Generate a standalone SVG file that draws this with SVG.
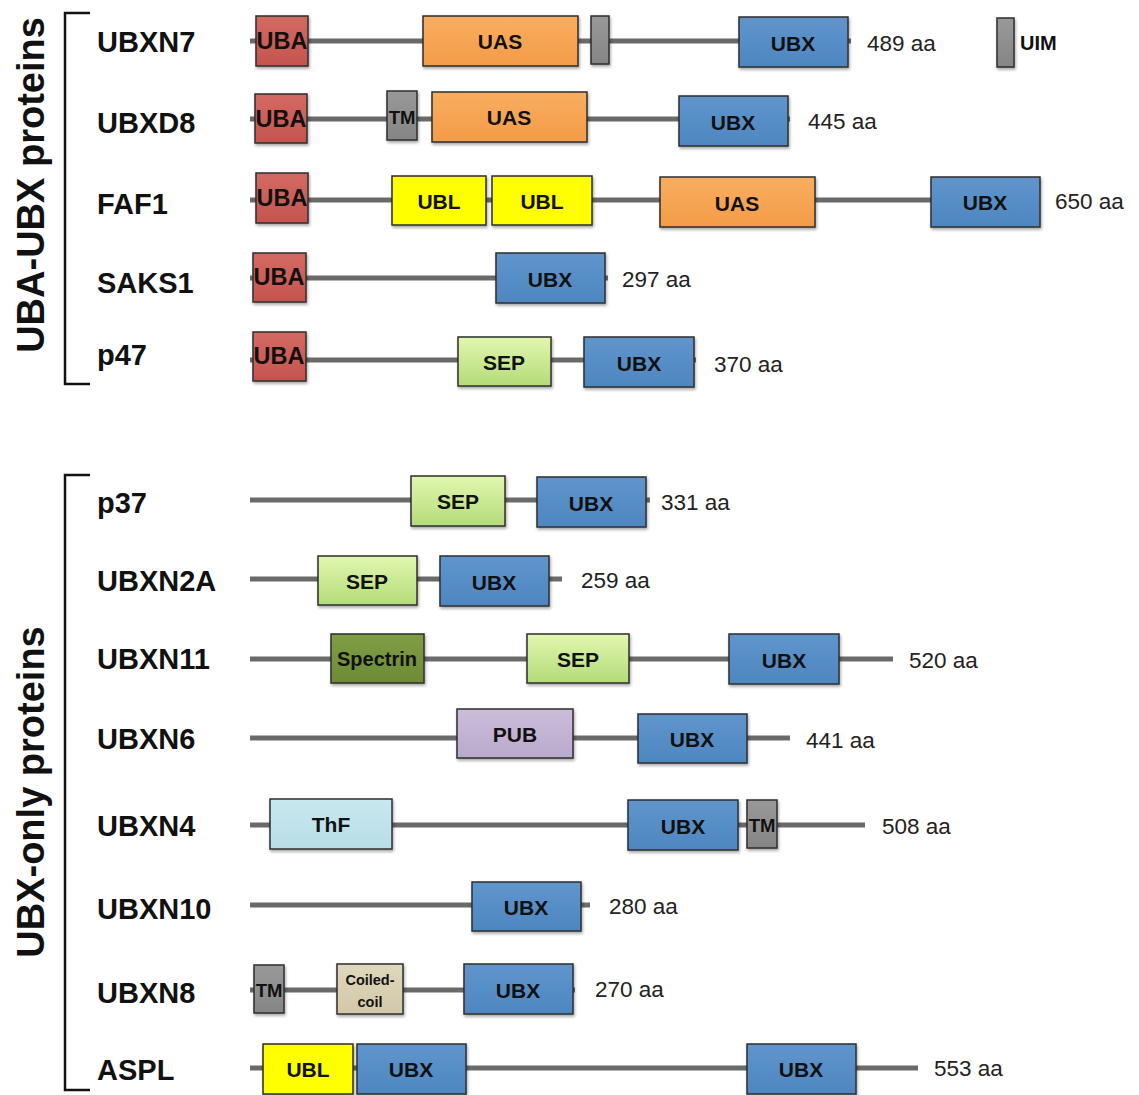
<svg xmlns="http://www.w3.org/2000/svg" width="1139" height="1095" viewBox="0 0 1139 1095">
<style>
.bb{stroke:#6a6a6a;stroke-width:5;fill:none}
.box{stroke:#2e2e2e;stroke-width:1.5;filter:url(#sh)}
.dl{font-family:"Liberation Sans",Arial,sans-serif;font-weight:bold;font-size:21px;fill:#111;text-anchor:middle}
.ua{font-size:23.5px}
.tm{font-size:18.5px}
.nm{font-family:"Liberation Sans",Arial,sans-serif;font-weight:bold;font-size:29px;fill:#111}
.aa{font-family:"Liberation Sans",Arial,sans-serif;font-size:22.5px;fill:#222}
.tt{font-family:"Liberation Sans",Arial,sans-serif;font-weight:bold;font-size:38px;fill:#111;text-anchor:middle}
.br{stroke:#111;stroke-width:2.5;fill:none}
.uba{fill:url(#gUBA)}.uas{fill:url(#gUAS)}.ubx{fill:url(#gUBX)}.gry{fill:url(#gGRY)}
.ubl{fill:#ffff00}.sep{fill:url(#gSEP)}.spe{fill:url(#gSPE)}.pub{fill:url(#gPUB)}
.thf{fill:url(#gTHF)}.coi{fill:url(#gCOI)}
</style>
<defs>
<filter id="sh" x="-10%" y="-10%" width="130%" height="140%"><feDropShadow dx="1" dy="2" stdDeviation="1.5" flood-color="#000" flood-opacity="0.35"/></filter>
<linearGradient id="gUBA" x1="0" y1="0" x2="0" y2="1"><stop offset="0" stop-color="#d36a62"/><stop offset="1" stop-color="#c4554e"/></linearGradient>
<linearGradient id="gUAS" x1="0" y1="0" x2="0" y2="1"><stop offset="0" stop-color="#f9ad60"/><stop offset="1" stop-color="#f39c48"/></linearGradient>
<linearGradient id="gUBX" x1="0" y1="0" x2="0" y2="1"><stop offset="0" stop-color="#6095cc"/><stop offset="1" stop-color="#4e86c0"/></linearGradient>
<linearGradient id="gGRY" x1="0" y1="0" x2="0" y2="1"><stop offset="0" stop-color="#999"/><stop offset="1" stop-color="#858585"/></linearGradient>
<linearGradient id="gSEP" x1="0" y1="0" x2="0" y2="1"><stop offset="0" stop-color="#e2f7b0"/><stop offset="1" stop-color="#b3db78"/></linearGradient>
<linearGradient id="gSPE" x1="0" y1="0" x2="0" y2="1"><stop offset="0" stop-color="#7f9e45"/><stop offset="1" stop-color="#6d8b35"/></linearGradient>
<linearGradient id="gPUB" x1="0" y1="0" x2="0" y2="1"><stop offset="0" stop-color="#cbbdda"/><stop offset="1" stop-color="#b9a9cc"/></linearGradient>
<linearGradient id="gTHF" x1="0" y1="0" x2="0" y2="1"><stop offset="0" stop-color="#c9e8ef"/><stop offset="1" stop-color="#b9dde6"/></linearGradient>
<linearGradient id="gCOI" x1="0" y1="0" x2="0" y2="1"><stop offset="0" stop-color="#e0d8bd"/><stop offset="1" stop-color="#d2c8a8"/></linearGradient>
</defs>
<rect width="1139" height="1095" fill="#fff"/>

<g id="titles">
<text class="tt" transform="translate(44,185) rotate(-90)">UBA-UBX proteins</text>
<path class="br" d="M90,13 H65 V384 H90"/>
<text class="tt" transform="translate(44,792) rotate(-90)">UBX-only proteins</text>
<path class="br" d="M90,475 H65 V1090 H90"/>
</g>

<g id="connectors">
<line class="bb" x1="250" y1="41" x2="851" y2="41"/>
<line class="bb" x1="250" y1="119" x2="790" y2="119"/>
<line class="bb" x1="250" y1="200" x2="1040" y2="200"/>
<line class="bb" x1="250" y1="278" x2="608" y2="278"/>
<line class="bb" x1="250" y1="360" x2="696" y2="360"/>
<line class="bb" x1="250" y1="500" x2="650" y2="500"/>
<line class="bb" x1="250" y1="579" x2="562" y2="579"/>
<line class="bb" x1="250" y1="659" x2="893" y2="659"/>
<line class="bb" x1="250" y1="738" x2="790" y2="738"/>
<line class="bb" x1="250" y1="825" x2="865" y2="825"/>
<line class="bb" x1="250" y1="905" x2="590" y2="905"/>
<line class="bb" x1="250" y1="990" x2="575" y2="990"/>
<line class="bb" x1="250" y1="1068" x2="918" y2="1068"/>
</g>

<g id="UBXN7">
<text class="nm" x="97" y="52">UBXN7</text>
<rect class="box uba" x="256" y="16" width="52" height="50"/><text class="dl ua" x="282" y="49">UBA</text>
<rect class="box uas" x="423" y="16" width="155" height="50"/><text class="dl" x="500" y="49">UAS</text>
<rect class="box gry" x="591" y="16" width="18" height="48"/>
<rect class="box ubx" x="739" y="17" width="109" height="50"/><text class="dl" x="793" y="51">UBX</text>
<text class="aa" x="867" y="51">489 aa</text>
</g>
<g id="legend-UIM">
<rect class="box gry" x="997" y="18" width="17" height="49"/>
<text class="dl" x="1020" y="50" style="text-anchor:start;font-size:20px">UIM</text>
</g>

<g id="UBXD8">
<text class="nm" x="97" y="133">UBXD8</text>
<rect class="box uba" x="255" y="94" width="52" height="49"/><text class="dl ua" x="281" y="127">UBA</text>
<rect class="box gry" x="387" y="91" width="30" height="49"/><text class="dl tm" x="402" y="124">TM</text>
<rect class="box uas" x="432" y="92" width="155" height="50"/><text class="dl" x="509" y="125">UAS</text>
<rect class="box ubx" x="679" y="96" width="109" height="50"/><text class="dl" x="733" y="130">UBX</text>
<text class="aa" x="808" y="129">445 aa</text>
</g>

<g id="FAF1">
<text class="nm" x="97" y="214">FAF1</text>
<rect class="box uba" x="256" y="173" width="52" height="50"/><text class="dl ua" x="282" y="206">UBA</text>
<rect class="box ubl" x="392" y="176" width="94" height="49"/><text class="dl" x="439" y="209">UBL</text>
<rect class="box ubl" x="492" y="176" width="100" height="49"/><text class="dl" x="542" y="209">UBL</text>
<rect class="box uas" x="660" y="177" width="155" height="50"/><text class="dl" x="737" y="211">UAS</text>
<rect class="box ubx" x="931" y="177" width="109" height="50"/><text class="dl" x="985" y="210">UBX</text>
<text class="aa" x="1055" y="209">650 aa</text>
</g>

<g id="SAKS1">
<text class="nm" x="97" y="293">SAKS1</text>
<rect class="box uba" x="253" y="253" width="53" height="49"/><text class="dl ua" x="279" y="285">UBA</text>
<rect class="box ubx" x="496" y="253" width="109" height="50"/><text class="dl" x="550" y="287">UBX</text>
<text class="aa" x="622" y="287">297 aa</text>
</g>

<g id="p47">
<text class="nm" x="97" y="365">p47</text>
<rect class="box uba" x="253" y="332" width="53" height="49"/><text class="dl ua" x="279" y="364">UBA</text>
<rect class="box sep" x="458" y="337" width="93" height="49"/><text class="dl" x="504" y="370">SEP</text>
<rect class="box ubx" x="584" y="337" width="110" height="50"/><text class="dl" x="639" y="371">UBX</text>
<text class="aa" x="714" y="372">370 aa</text>
</g>

<g id="p37">
<text class="nm" x="97" y="513">p37</text>
<rect class="box sep" x="411" y="476" width="94" height="50"/><text class="dl" x="458" y="509">SEP</text>
<rect class="box ubx" x="537" y="477" width="109" height="50"/><text class="dl" x="591" y="511">UBX</text>
<text class="aa" x="661" y="510">331 aa</text>
</g>

<g id="UBXN2A">
<text class="nm" x="97" y="591">UBXN2A</text>
<rect class="box sep" x="318" y="556" width="99" height="49"/><text class="dl" x="367" y="589">SEP</text>
<rect class="box ubx" x="440" y="556" width="109" height="50"/><text class="dl" x="494" y="590">UBX</text>
<text class="aa" x="581" y="588">259 aa</text>
</g>

<g id="UBXN11">
<text class="nm" x="97" y="669">UBXN11</text>
<rect class="box spe" x="331" y="634" width="93" height="49"/><text class="dl" x="377" y="666" style="font-size:20px">Spectrin</text>
<rect class="box sep" x="527" y="634" width="102" height="49"/><text class="dl" x="578" y="667">SEP</text>
<rect class="box ubx" x="729" y="634" width="110" height="50"/><text class="dl" x="784" y="668">UBX</text>
<text class="aa" x="909" y="668">520 aa</text>
</g>

<g id="UBXN6">
<text class="nm" x="97" y="749">UBXN6</text>
<rect class="box pub" x="457" y="709" width="116" height="49"/><text class="dl" x="515" y="742">PUB</text>
<rect class="box ubx" x="638" y="714" width="109" height="49"/><text class="dl" x="692" y="747">UBX</text>
<text class="aa" x="806" y="748">441 aa</text>
</g>

<g id="UBXN4">
<text class="nm" x="97" y="836">UBXN4</text>
<rect class="box thf" x="270" y="799" width="122" height="50"/><text class="dl" x="331" y="832">ThF</text>
<rect class="box ubx" x="628" y="800" width="110" height="50"/><text class="dl" x="683" y="834">UBX</text>
<rect class="box gry" x="747" y="800" width="30" height="48"/><text class="dl tm" x="762" y="832">TM</text>
<text class="aa" x="882" y="834">508 aa</text>
</g>

<g id="UBXN10">
<text class="nm" x="97" y="919">UBXN10</text>
<rect class="box ubx" x="472" y="882" width="109" height="49"/><text class="dl" x="526" y="915">UBX</text>
<text class="aa" x="609" y="914">280 aa</text>
</g>

<g id="UBXN8">
<text class="nm" x="97" y="1003">UBXN8</text>
<rect class="box gry" x="254" y="965" width="30" height="48"/><text class="dl tm" x="269" y="997">TM</text>
<rect class="box coi" x="337" y="964" width="66" height="50"/><text class="dl" x="370" y="985" style="font-size:14.5px">Coiled-</text><text class="dl" x="370" y="1007" style="font-size:14.5px">coil</text>
<rect class="box ubx" x="464" y="964" width="109" height="50"/><text class="dl" x="518" y="998">UBX</text>
<text class="aa" x="595" y="997">270 aa</text>
</g>

<g id="ASPL">
<text class="nm" x="97" y="1080">ASPL</text>
<rect class="box ubl" x="263" y="1044" width="90" height="50"/><text class="dl" x="308" y="1077">UBL</text>
<rect class="box ubx" x="357" y="1044" width="109" height="50"/><text class="dl" x="411" y="1077">UBX</text>
<rect class="box ubx" x="747" y="1044" width="109" height="50"/><text class="dl" x="801" y="1077">UBX</text>
<text class="aa" x="934" y="1076">553 aa</text>
</g>
</svg>
